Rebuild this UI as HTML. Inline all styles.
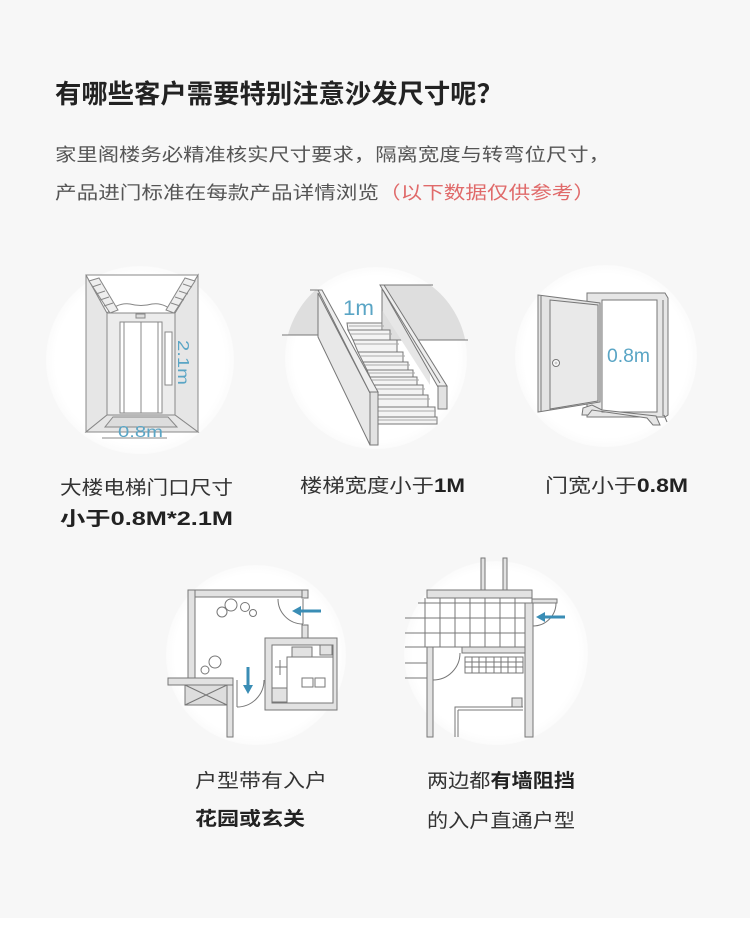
<!DOCTYPE html>
<html><head><meta charset="utf-8">
<style>
html,body{margin:0;padding:0;background:#f7f7f7;}
svg{display:block;}
text{font-family:"Liberation Sans","Noto Sans CJK SC",sans-serif;}
</style></head>
<body>
<svg width="750" height="926" viewBox="0 0 750 926" xmlns="http://www.w3.org/2000/svg">
<defs>
<clipPath id="c2"><circle cx="376" cy="358" r="91"/></clipPath>
<radialGradient id="cg"><stop offset="0.9" stop-color="#fff"/><stop offset="1" stop-color="#fbfbfb"/></radialGradient>
</defs>
<rect x="0" y="0" width="750" height="926" fill="#f7f7f7"/>
<rect x="0" y="918" width="750" height="8" fill="#ffffff"/>

<!-- header text -->
<text x="55" y="103" font-size="26" font-weight="700" fill="#222" textLength="448" lengthAdjust="spacingAndGlyphs">有哪些客户需要特别注意沙发尺寸呢？</text>
<text x="55" y="161" font-size="18" fill="#555" textLength="555" lengthAdjust="spacingAndGlyphs">家里阁楼务必精准核实尺寸要求，隔离宽度与转弯位尺寸，</text>
<text x="55" y="199" font-size="18" fill="#555" textLength="540" lengthAdjust="spacingAndGlyphs">产品进门标准在每款产品详情浏览<tspan fill="#e06a6a">（以下数据仅供参考）</tspan></text>

<!-- circles -->
<circle cx="140" cy="360" r="94" fill="url(#cg)"/>
<circle cx="376" cy="358" r="91" fill="url(#cg)"/>
<circle cx="606" cy="356" r="91" fill="url(#cg)"/>
<circle cx="256" cy="655" r="90" fill="url(#cg)"/>
<circle cx="496" cy="653" r="92" fill="url(#cg)"/>

<!-- ===== Elevator ===== -->
<g stroke="#888" stroke-width="1" fill="none">
  <polygon points="86,275 107,313 107,415 86,432" fill="#e6e6e6"/>
  <polygon points="198,275 175,313 175,415 198,432" fill="#e6e6e6"/>
  <polygon points="86,275 198,275 175,313 107,313" fill="#fff"/>
  <path d="M107,313 Q118,302 130,304 Q141,307 152,304 Q164,302 175,313" />
  <polygon points="89,281 99,278 118,310 110,313" fill="#eee"/>
  <line x1="92" y1="287" x2="101" y2="284"/><line x1="96" y1="294" x2="105" y2="291"/><line x1="100" y1="300" x2="109" y2="297"/><line x1="104" y1="306" x2="113" y2="303"/>
  <polygon points="195,281 185,278 166,310 174,313" fill="#eee"/>
  <line x1="192" y1="287" x2="183" y2="284"/><line x1="188" y1="294" x2="179" y2="291"/><line x1="184" y1="300" x2="175" y2="297"/><line x1="180" y1="306" x2="171" y2="303"/>
  <rect x="107" y="313" width="68" height="102" fill="#ececec"/>
  <rect x="136" y="314" width="9" height="4" fill="#ddd"/>
  <rect x="120" y="322" width="42" height="91" fill="#fff"/>
  <line x1="141" y1="322" x2="141" y2="413"/>
  <line x1="124" y1="322" x2="124" y2="413"/>
  <line x1="158" y1="322" x2="158" y2="413"/>
  <rect x="165" y="332" width="7" height="53" fill="#fff"/>
  <polygon points="107,415 175,415 198,432 86,432" fill="#e6e6e6"/>
  <polygon points="113,417 168,417 177,427 105,427" fill="#ddd"/>
  <line x1="102" y1="438" x2="167" y2="438"/>
</g>
<text x="118" y="437" font-size="16" fill="#5aa5c5" textLength="45" lengthAdjust="spacingAndGlyphs">0.8m</text>
<text transform="translate(178,340) rotate(90)" font-size="16" fill="#5aa5c5" textLength="45" lengthAdjust="spacingAndGlyphs">2.1m</text>

<!-- ===== Stairs ===== -->
<g clip-path="url(#c2)">
  <rect x="280" y="290" width="38" height="45" fill="#dedede"/>
  <rect x="383" y="285" width="90" height="55" fill="#dedede"/>
</g>
<g stroke="#777" stroke-width="1" fill="none">
  <line x1="310" y1="290" x2="322" y2="290"/>
  <line x1="282" y1="335" x2="318" y2="335"/>
  <line x1="380" y1="285" x2="433" y2="285"/>
  <line x1="383" y1="340" x2="468" y2="340"/>
  <polygon points="382,288 387,288 430,358 430,385 382,310" fill="#e6e6e6" stroke="none"/>
  <line x1="382" y1="285" x2="382" y2="327"/>
  <!-- steps -->
  <g fill="#f4f4f4">
    <polygon points="347,323 382,323 382,330 348,330"/>
    <polygon points="348,330 390,330 390,340 353,340"/>
    <polygon points="353,340 397,340 397,352 358,352"/>
    <polygon points="358,352 403,352 403,362 363,362"/>
    <polygon points="363,362 408,362 408,370 367,370"/>
    <polygon points="367,370 413,370 413,377 370,377"/>
    <polygon points="370,377 417,377 417,385 373,385"/>
    <polygon points="373,385 423,385 423,395 377,395"/>
    <polygon points="377,395 428,395 428,407 378,407"/>
    <polygon points="378,407 435,407 435,417 378,417"/>
    <polygon points="378,417 437,417 437,424 378,424"/>
  </g>
  <g stroke="#aaa">
    <line x1="349" y1="326" x2="384" y2="326"/><line x1="350" y1="334" x2="392" y2="334"/><line x1="355" y1="344" x2="399" y2="344"/><line x1="360" y1="356" x2="405" y2="356"/><line x1="365" y1="365" x2="410" y2="365"/><line x1="368" y1="373" x2="415" y2="373"/><line x1="372" y1="380" x2="419" y2="380"/><line x1="375" y1="389" x2="425" y2="389"/><line x1="378" y1="399" x2="430" y2="399"/><line x1="378" y1="411" x2="436" y2="411"/><line x1="378" y1="420" x2="437" y2="420"/>
  </g>
  <!-- left balustrade -->
  <polygon points="318,293 370,393 370,445 318,337" fill="#e8e8e8"/>
  <polygon points="318,290 322,290 378,392 370,393" fill="#eeeeee"/>
  <rect x="370" y="392" width="8" height="53" fill="#e2e2e2"/>
  <!-- right balustrade -->
  <polygon points="380,285 384,285 447,386 438,387" fill="#eeeeee"/>
  <line x1="383" y1="290" x2="440" y2="383"/>
  <rect x="438" y="386" width="9" height="23" fill="#e2e2e2"/>
</g>
<text x="343" y="315" font-size="21" fill="#5aa5c5" textLength="31" lengthAdjust="spacingAndGlyphs">1m</text>

<!-- ===== Door ===== -->
<g stroke="#777" stroke-width="1">
  <polygon points="587,293 665,293 668,298 668,415 665,417 587,417" fill="#e6e6e6"/>
  <rect x="602" y="300" width="55" height="112" fill="#fff"/>
  <line x1="663" y1="300" x2="663" y2="416" fill="none"/>
  <polygon points="583,408 582,415 588,415 592,410 647,418 653,425 660,425 656,416 602,410 592,405" fill="#e6e6e6"/>
  <line x1="664" y1="415" x2="667" y2="422"/>
  <polygon points="538,295 600,303 600,402 538,412" fill="#e4e4e4"/>
  <polygon points="550,300 598,305 598,401 550,409" fill="#e9e9e9"/>
  <line x1="541" y1="296" x2="541" y2="411"/>
  <circle cx="556" cy="363" r="3.5" fill="#fff"/>
  <circle cx="556" cy="363" r="1.5" fill="#ccc" stroke="none"/>
</g>
<text x="607" y="362" font-size="19" fill="#5aa5c5" textLength="43" lengthAdjust="spacingAndGlyphs">0.8m</text>

<!-- row1 labels -->
<text x="60" y="494" font-size="19" fill="#333" textLength="173" lengthAdjust="spacingAndGlyphs">大楼电梯门口尺寸</text>
<text x="60" y="525" font-size="19" font-weight="700" fill="#222" textLength="173" lengthAdjust="spacingAndGlyphs">小于0.8M*2.1M</text>
<text x="300" y="492" font-size="19" fill="#333" textLength="165" lengthAdjust="spacingAndGlyphs">楼梯宽度小于<tspan font-weight="700" fill="#222">1M</tspan></text>
<text x="545" y="492" font-size="19" fill="#333" textLength="143" lengthAdjust="spacingAndGlyphs">门宽小于<tspan font-weight="700" fill="#222">0.8M</tspan></text>

<!-- ===== Garden plan ===== -->
<g stroke="#777" stroke-width="1" fill="#e2e2e2">
  <rect x="188" y="590" width="120" height="7"/>
  <rect x="188" y="590" width="7" height="90"/>
  <rect x="302" y="590" width="6" height="8"/>
  <rect x="302" y="625" width="6" height="13"/>
  <rect x="168" y="678" width="65" height="7"/>
  <rect x="185" y="685" width="42" height="20" fill="#ddd"/>
  <line x1="185" y1="685" x2="227" y2="705"/><line x1="227" y1="685" x2="185" y2="705"/>
  <rect x="227" y="685" width="6" height="52"/>
  <path d="M265,638 H337 V710 H265 Z M272,645 V703 H333 V645 Z" fill-rule="evenodd"/>
  <rect x="287" y="657" width="46" height="46" fill="#fff"/>
  <rect x="302" y="678" width="11" height="9" fill="#fff"/>
  <rect x="315" y="678" width="10" height="9" fill="#fff"/>
  <rect x="292" y="647" width="20" height="10"/>
  <rect x="320" y="645" width="12" height="10"/>
  <rect x="272" y="688" width="15" height="14"/>
  <g fill="none">
    <line x1="280" y1="660" x2="280" y2="675"/><line x1="275" y1="667" x2="287" y2="667"/>
    <path d="M278,599 A25,25 0 0 0 303,624"/>
    <line x1="303" y1="599" x2="303" y2="624"/>
    <path d="M264,680 A27,27 0 0 1 237,707"/>
    <line x1="237" y1="680" x2="237" y2="707"/>
    <circle cx="222" cy="612" r="5"/><circle cx="231" cy="605" r="6"/><circle cx="245" cy="607" r="4.5"/><circle cx="253" cy="613" r="3.5"/>
    <circle cx="215" cy="662" r="6"/><circle cx="205" cy="670" r="4"/>
  </g>
</g>
<g stroke="#3a8db5" stroke-width="3" fill="#3a8db5">
  <line x1="321" y1="611" x2="299" y2="611"/>
  <polygon points="292,611 301,606 301,616" stroke="none"/>
  <line x1="248" y1="667" x2="248" y2="687"/>
  <polygon points="248,694 243,685 253,685" stroke="none"/>
</g>
<text x="195" y="787" font-size="19" fill="#333" textLength="132" lengthAdjust="spacingAndGlyphs">户型带有入户</text>
<text x="195" y="825" font-size="19" font-weight="700" fill="#222" textLength="110" lengthAdjust="spacingAndGlyphs">花园或玄关</text>

<!-- ===== Wall plan ===== -->
<g stroke="#777" stroke-width="1" fill="#e2e2e2">
  <rect x="481" y="558" width="4" height="32"/>
  <rect x="503" y="558" width="4" height="32"/>
  <rect x="427" y="590" width="105" height="8"/>
  <rect x="532" y="599" width="25" height="4"/>
  <g fill="none">
    <line x1="418" y1="603" x2="527" y2="603"/>
    <line x1="405" y1="618" x2="527" y2="618"/>
    <line x1="405" y1="633" x2="527" y2="633"/>
    <line x1="405" y1="647" x2="462" y2="647"/>
    <line x1="405" y1="663" x2="427" y2="663"/>
    <line x1="405" y1="678" x2="427" y2="678"/>
    <line x1="425" y1="598" x2="425" y2="647"/><line x1="440" y1="598" x2="440" y2="647"/><line x1="455" y1="598" x2="455" y2="647"/><line x1="470" y1="598" x2="470" y2="647"/><line x1="485" y1="598" x2="485" y2="647"/><line x1="500" y1="598" x2="500" y2="647"/><line x1="515" y1="598" x2="515" y2="647"/>
  </g>
  <rect x="525" y="603" width="8" height="134"/>
  <rect x="427" y="647" width="6" height="90"/>
  <rect x="462" y="647" width="63" height="6"/>
  <g fill="none">
    <path d="M556,603 A23,23 0 0 1 533,626"/>
    <path d="M460,653 A27,27 0 0 1 433,680"/>
    <rect x="465" y="657" width="58" height="16"/>
    <line x1="465" y1="662" x2="523" y2="662"/><line x1="465" y1="667" x2="523" y2="667"/>
    <line x1="472" y1="657" x2="472" y2="673"/><line x1="479" y1="657" x2="479" y2="673"/><line x1="486" y1="657" x2="486" y2="673"/><line x1="494" y1="657" x2="494" y2="673"/><line x1="501" y1="657" x2="501" y2="673"/><line x1="508" y1="657" x2="508" y2="673"/><line x1="516" y1="657" x2="516" y2="673"/>
    <path d="M455,737 V707 H523"/>
    <line x1="458" y1="710" x2="458" y2="737"/>
    <line x1="458" y1="710" x2="523" y2="710"/>
  </g>
  <rect x="512" y="698" width="10" height="9"/>
</g>
<g stroke="#3a8db5" stroke-width="3" fill="#3a8db5">
  <line x1="565" y1="617" x2="543" y2="617"/>
  <polygon points="536,617 545,612 545,622" stroke="none"/>
</g>
<text x="427" y="787" font-size="19" fill="#333" textLength="148" lengthAdjust="spacingAndGlyphs">两边都<tspan font-weight="700" fill="#222">有墙阻挡</tspan></text>
<text x="427" y="827" font-size="19" fill="#333" textLength="148" lengthAdjust="spacingAndGlyphs">的入户直通户型</text>
</svg>
</body></html>
